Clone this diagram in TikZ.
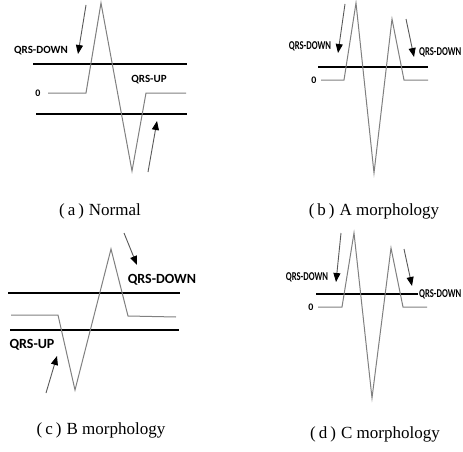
\documentclass[tikz,border=0pt]{standalone}
\usepackage{fontspec}
\setmainfont{Liberation Serif}
\newfontfamily\lblfont{Carlito}
\usetikzlibrary{arrows.meta}
\tikzset{
  bar line/.style={line width=1.8pt, black},
  trace/.style={line width=1pt, color=black!50},
  ptr/.style={line width=0.9pt, color=black!65, -{Triangle[length=9pt,width=7pt,fill=black,color=black]}},
  lbl/.style={inner sep=0pt, font=\lblfont\bfseries\fontsize{11}{12}\selectfont},
  biglbl/.style={inner sep=0pt, font=\lblfont\bfseries\fontsize{14}{15}\selectfont},
  narrowlbl/.style={inner sep=0pt, font=\lblfont\bfseries\fontsize{12}{13}\selectfont},
  zero/.style={inner sep=0pt, font=\lblfont\bfseries\fontsize{10}{11}\selectfont},
  captxt/.style={inner sep=0pt, font=\fontsize{17}{19}\selectfont}
}
\newcommand{\capt}[2]{(\hspace{3pt}#1\hspace{3pt})\hspace{5pt}#2}
\newcommand{\narrowtext}[1]{\scalebox{0.72}[1]{#1}}
\begin{document}
\begin{tikzpicture}[x=1pt,y=-1pt]
\useasboundingbox (0,0) rectangle (463,452);
\fill[white] (0,0) rectangle (463,452);

% ---------- (a) Normal ----------
\coordinate (a1L) at (33,64);  \coordinate (a1R) at (187,64);
\coordinate (a2L) at (36,114); \coordinate (a2R) at (187,114);
\draw[bar line] (a1L) -- (a1R);
\draw[bar line] (a2L) -- (a2R);
\coordinate (aS) at (48,93);  \coordinate (aQ) at (86,93);
\coordinate (aP) at (101,3);  \coordinate (aT) at (132,171);
\coordinate (aU) at (146,93); \coordinate (aE) at (186,93);
\draw[trace] (aS) -- (aQ) -- (aP) -- (aT) -- (aU) -- (aE);
\node[zero] (a0) at (38,93) {0};
\node[lbl] (aDown) at (41,51) {QRS-DOWN};
\node[lbl] (aUp) at (149,80) {QRS-UP};
\coordinate (aD1) at (86,5);   \coordinate (aD2) at (78,54);
\coordinate (aU1) at (148,172);\coordinate (aU2) at (157,121);
\draw[ptr] (aD1) -- (aD2);
\draw[ptr] (aU1) -- (aU2);
\node[captxt] (capa) at (100,211) {\capt{a}{Normal}};

% ---------- (b) A morphology ----------
\coordinate (b1L) at (318,67); \coordinate (b1R) at (428,67);
\draw[bar line] (b1L) -- (b1R);
\coordinate (bS) at (321,80); \coordinate (bQ) at (344,80);
\coordinate (bP) at (356,3);  \coordinate (bT) at (374,173);
\coordinate (bP2) at (392,19);\coordinate (bU) at (404,80);
\coordinate (bE) at (428,80);
\draw[trace] (bS) -- (bQ) -- (bP) -- (bT) -- (bP2) -- (bU) -- (bE);
\node[zero] (b0) at (314,80) {0};
\node[narrowlbl] (bDownL) at (310,46) {\narrowtext{QRS-DOWN}};
\node[narrowlbl, anchor=west] (bDownR) at (419,52) {\narrowtext{QRS-DOWN}};
\coordinate (bD1) at (345,4);  \coordinate (bD2) at (338,53);
\coordinate (bR1) at (406,19); \coordinate (bR2) at (414,57);
\draw[ptr] (bD1) -- (bD2);
\draw[ptr] (bR1) -- (bR2);
\node[captxt] (capb) at (374,211) {\capt{b}{A morphology}};

% ---------- (c) B morphology ----------
\coordinate (c1L) at (8,293);  \coordinate (c1R) at (180,293);
\coordinate (c2L) at (10,330); \coordinate (c2R) at (179,330);
\draw[bar line] (c1L) -- (c1R);
\draw[bar line] (c2L) -- (c2R);
\coordinate (cS) at (11,315); \coordinate (cQ) at (58,315);
\coordinate (cT) at (75,390); \coordinate (cP) at (111,249);
\coordinate (cU) at (128,316);\coordinate (cE) at (176,317);
\draw[trace] (cS) -- (cQ) -- (cT) -- (cP) -- (cU) -- (cE);
\node[biglbl] (cDown) at (162,280) {QRS-DOWN};
\node[biglbl] (cUp) at (32,345) {QRS-UP};
\coordinate (cD1) at (124,233); \coordinate (cD2) at (137,265);
\coordinate (cU1) at (46,393);  \coordinate (cU2) at (57,356);
\draw[ptr] (cD1) -- (cD2);
\draw[ptr] (cU1) -- (cU2);
\node[captxt] (capc) at (101,430) {\capt{c}{B morphology}};

% ---------- (d) C morphology ----------
\coordinate (d1L) at (316,294); \coordinate (d1R) at (418,294);
\draw[bar line] (d1L) -- (d1R);
\coordinate (dS) at (318,307); \coordinate (dQ) at (342,307);
\coordinate (dP) at (354,233); \coordinate (dT) at (372,398);
\coordinate (dP2) at (391,248);\coordinate (dU) at (403,307);
\coordinate (dE) at (427,307);
\draw[trace] (dS) -- (dQ) -- (dP) -- (dT) -- (dP2) -- (dU) -- (dE);
\node[zero] (d0) at (311,307) {0};
\node[narrowlbl] (dDownL) at (307,277) {\narrowtext{QRS-DOWN}};
\node[narrowlbl, anchor=west] (dDownR) at (419,294) {\narrowtext{QRS-DOWN}};
\coordinate (dD1) at (341,233); \coordinate (dD2) at (336,282);
\coordinate (dR1) at (404,249); \coordinate (dR2) at (412,286);
\draw[ptr] (dD1) -- (dD2);
\draw[ptr] (dR1) -- (dR2);
\node[captxt] (capd) at (375,434) {\capt{d}{C morphology}};
\end{tikzpicture}
\end{document}
